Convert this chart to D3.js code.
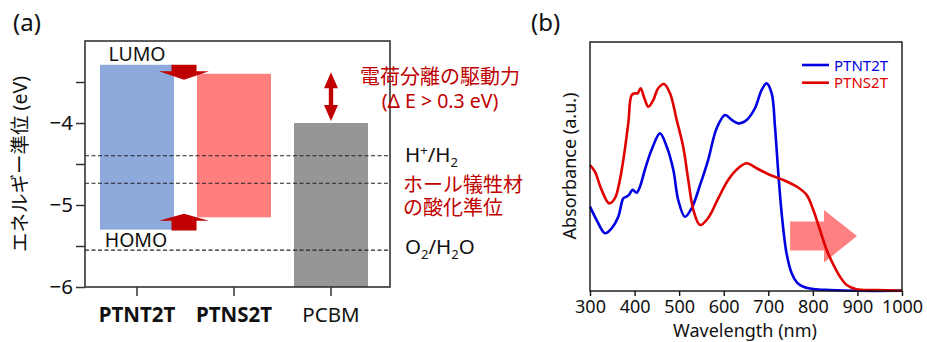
<!DOCTYPE html>
<html><head><meta charset="utf-8">
<script src="https://cdn.jsdelivr.net/npm/d3@7"></script>
<style>
body{margin:0;background:#fff}
svg{display:block}
text{font-family:"Noto Sans","Noto Sans CJK JP",sans-serif}
</style>
</head><body>
<svg id="c" width="927" height="342"></svg>
<script>
// ---------- data: panel (a) ----------
const categories = ["PTNT2T", "PTNS2T", "PCBM"];
const lumoLevels = [-3.29, -3.40, -4.00];
const homoLevels = [-5.30, -5.15, -6.00];
const refLevels = [-4.40, -4.735, -5.55];
const energyTicks = [-6, -5.5, -5, -4.5, -4, -3.5];
const energyTickLabels = ["−6", "", "−5", "", "−4", ""];
// ---------- data: panel (b) ----------
const wavelengthTicks = [300, 400, 500, 600, 700, 800, 900, 1000];
const ptnt2tWl = [300,315,333.6,348.6,363.5,374.7,382,387.5,395.7,404.7,412,423,438,457,472,487,498,513,528,547,565,584,603,618,633,651.6,670,685,696,707.6,715,722.5,730,741,752.5,764,779,801,838.5,898,1000];
const ptnt2tAbs = [0.339,0.285,0.232,0.252,0.298,0.372,0.379,0.386,0.406,0.395,0.419,0.486,0.566,0.633,0.580,0.486,0.365,0.298,0.332,0.426,0.526,0.653,0.707,0.687,0.673,0.687,0.734,0.807,0.834,0.794,0.660,0.473,0.312,0.151,0.071,0.035,0.017,0.008,0.004,0.001,0.001];
const ptns2tWl = [300,311,326,343,356,367,378,386,393.5,401,407,413.7,422,431,442,453,466,479.5,494.5,509,520.5,532,547,565,588,610,633,651.6,674,704,734,764,786,801,816,831,846.5,861,876,898,943,1000];
const ptns2tAbs = [0.506,0.479,0.406,0.352,0.373,0.446,0.566,0.675,0.787,0.794,0.794,0.814,0.774,0.740,0.767,0.814,0.831,0.794,0.687,0.580,0.446,0.325,0.265,0.293,0.373,0.446,0.494,0.513,0.493,0.466,0.446,0.419,0.386,0.325,0.245,0.165,0.104,0.057,0.024,0.007,0.004,0.001];
const seriesNames = ["PTNT2T", "PTNS2T"];

const svg = d3.select("#c");
const darkRed = "#c00000";
const barColors = ["#8eaadc", "#ff7f7f", "#969696"];

// ================= Panel (a) =================
const ax0 = 85, ax1 = 390, ay0 = 41, ay1 = 287;
const xA = d3.scaleBand().domain(categories).range([88.5, 379.5])
  .paddingInner(23/97).paddingOuter(23/194);
const yA = d3.scaleLinear().domain([-6, -3]).range([ay1, ay0]);
const gA = svg.append("g");

gA.selectAll("rect.bar").data(categories).join("rect")
  .attr("class", "bar")
  .attr("x", d => xA(d)).attr("width", xA.bandwidth())
  .attr("y", (d, i) => yA(lumoLevels[i]))
  .attr("height", (d, i) => yA(homoLevels[i]) - yA(lumoLevels[i]))
  .attr("fill", (d, i) => barColors[i]);

gA.selectAll("line.ref").data(refLevels).join("line")
  .attr("x1", ax0).attr("x2", ax1 - 2)
  .attr("y1", d => yA(d)).attr("y2", d => yA(d))
  .attr("stroke", "#222").attr("stroke-width", 1.1).attr("stroke-dasharray", "4,2.5");

// arrows between LUMO / HOMO
const gapX = (xA(categories[0]) + xA.bandwidth() + xA(categories[1])) / 2 - 1.5;
function blockArrow(cx, yStart, yTip, shaftW, headW, headL) {
  const dir = Math.sign(yTip - yStart);
  const yb = yTip - dir * headL;
  return `M${cx - shaftW/2},${yStart} L${cx + shaftW/2},${yStart} L${cx + shaftW/2},${yb}
    L${cx + headW/2},${yb} L${cx},${yTip} L${cx - headW/2},${yb} L${cx - shaftW/2},${yb} Z`;
}
gA.append("path")
  .attr("d", blockArrow(gapX, yA(lumoLevels[0]), yA(lumoLevels[1]) + 6, 25, 50, 8.5))
  .attr("fill", darkRed);
gA.append("path")
  .attr("d", blockArrow(gapX, yA(homoLevels[0]) + 1, yA(homoLevels[1]) - 3.5, 25, 50, 7))
  .attr("fill", darkRed);

// double arrow (PCBM)
{
  const cx = xA(categories[2]) + xA.bandwidth() / 2;
  const yt = yA(lumoLevels[1]) - 1.5, yb = yA(lumoLevels[2]) - 2;
  const hw = 7, hl = 16, sw = 2.2;
  gA.append("path").attr("fill", darkRed).attr("d",
    `M${cx},${yt} L${cx + hw},${yt + hl} L${cx + sw},${yt + hl} L${cx + sw},${yb - hl}
     L${cx + hw},${yb - hl} L${cx},${yb} L${cx - hw},${yb - hl} L${cx - sw},${yb - hl}
     L${cx - sw},${yt + hl} L${cx - hw},${yt + hl} Z`);
}

// box
gA.append("rect").attr("x", ax0).attr("y", ay0).attr("width", ax1 - ax0).attr("height", ay1 - ay0)
  .attr("fill", "none").attr("stroke", "#333").attr("stroke-width", 1.6);

// y axis
const yAxA = gA.append("g").attr("transform", `translate(${ax0},0)`)
  .call(d3.axisLeft(yA).tickValues(energyTicks).tickSize(9).tickPadding(3)
    .tickFormat((d, i) => energyTickLabels[i]));
yAxA.select(".domain").remove();
yAxA.selectAll(".tick line").attr("stroke", "#333").attr("stroke-width", 1.5);
yAxA.selectAll(".tick text").attr("font-size", 20.5).attr("fill", "#111")
  .attr("font-family", "Noto Sans");

// x axis
const xAxA = gA.append("g").attr("transform", `translate(0,${ay1})`)
  .call(d3.axisBottom(xA).tickSize(9));
xAxA.select(".domain").remove();
xAxA.selectAll(".tick line").attr("stroke", "#333").attr("stroke-width", 1.5);
xAxA.selectAll(".tick text").attr("font-size", 20.5).attr("fill", "#111")
  .attr("y", 35).attr("dy", 0)
  .attr("font-weight", (d, i) => i < 2 ? "bold" : "normal");

// y label
gA.append("text").attr("transform", "translate(27,164) rotate(-90)")
  .attr("text-anchor", "middle").attr("font-size", 19.5).attr("fill", "#111")
  .text("エネルギー準位 (eV)");

// LUMO / HOMO labels
const c0 = xA(categories[0]) + xA.bandwidth() / 2;
gA.append("text").attr("x", c0).attr("y", 61).attr("text-anchor", "middle")
  .attr("font-size", 19.5).attr("fill", "#111").text("LUMO");
gA.append("text").attr("x", c0 - 1).attr("y", 247).attr("text-anchor", "middle")
  .attr("font-size", 19.5).attr("fill", "#111").text("HOMO");

// right-side annotations
gA.append("text").attr("x", 440).attr("y", 84).attr("text-anchor", "middle")
  .attr("font-size", 20).attr("fill", darkRed).text("電荷分離の駆動力");
gA.append("text").attr("x", 440).attr("y", 108).attr("text-anchor", "middle")
  .attr("font-size", 19.5).attr("fill", darkRed).text("(Δ E > 0.3 eV)");

const h = gA.append("text").attr("x", 405).attr("y", yA(refLevels[0]) + 6)
  .attr("font-size", 20.5).attr("fill", "#111");
h.append("tspan").text("H");
h.append("tspan").attr("font-size", 13).attr("dy", -7).text("+");
h.append("tspan").attr("dy", 7).text("/H");
h.append("tspan").attr("font-size", 13).attr("dy", 5).text("2");

gA.append("text").attr("x", 403).attr("y", 192).attr("font-size", 20).attr("fill", darkRed)
  .text("ホール犠牲材");
gA.append("text").attr("x", 403).attr("y", 215).attr("font-size", 20).attr("fill", darkRed)
  .text("の酸化準位");

const o = gA.append("text").attr("x", 405).attr("y", yA(refLevels[2]) + 4)
  .attr("font-size", 20.5).attr("fill", "#111");
o.append("tspan").text("O");
o.append("tspan").attr("font-size", 13).attr("dy", 5).text("2");
o.append("tspan").attr("dy", -5).text("/H");
o.append("tspan").attr("font-size", 13).attr("dy", 5).text("2");
o.append("tspan").attr("dy", -5).text("O");

svg.append("text").attr("x", 13).attr("y", 31).attr("font-size", 24).attr("fill", "#111").text("(a)");

// ================= Panel (b) =================
const bx0 = 590, bx1 = 902, by0 = 42, by1 = 291;
const xB = d3.scaleLinear().domain([300, 1000]).range([bx0, bx1]);
const yB = d3.scaleLinear().domain([0, 1]).range([by1, by0]);
const gB = svg.append("g");

// pink arrow (red-shift)
{
  const xs = xB(749), xh = xB(825), xt = xB(899), ym = yB(0.221);
  gB.append("path").attr("fill", "#ff8080").attr("d",
    `M${xs},${ym - 14.5} L${xh},${ym - 14.5} L${xh},${ym - 26} L${xt},${ym}
     L${xh},${ym + 26.5} L${xh},${ym + 14.5} L${xs},${ym + 14.5} Z`);
}

const line = d3.line().x(d => xB(d[0])).y(d => yB(d[1])).curve(d3.curveCatmullRom.alpha(0.5));
const seriesData = [
  {name: seriesNames[0], color: "#0000e0", pts: ptnt2tWl.map((w, i) => [w, ptnt2tAbs[i]])},
  {name: seriesNames[1], color: "#e00000", pts: ptns2tWl.map((w, i) => [w, ptns2tAbs[i]])}
];
gB.selectAll("path.s").data(seriesData).join("path")
  .attr("class", "s").attr("fill", "none")
  .attr("stroke", d => d.color).attr("stroke-width", 2.6)
  .attr("stroke-linejoin", "round")
  .attr("d", d => line(d.pts));

gB.append("rect").attr("x", bx0).attr("y", by0).attr("width", bx1 - bx0).attr("height", by1 - by0)
  .attr("fill", "none").attr("stroke", "#111").attr("stroke-width", 1.4);

const xAxB = gB.append("g").attr("transform", `translate(0,${by1})`)
  .call(d3.axisBottom(xB).tickValues(wavelengthTicks).tickSize(5).tickPadding(4).tickFormat(d3.format("d")));
xAxB.select(".domain").remove();
xAxB.selectAll(".tick line").attr("stroke", "#111").attr("stroke-width", 1.4);
xAxB.selectAll(".tick text").attr("font-size", 18).attr("fill", "#111")
  .attr("font-family", "Noto Sans");

gB.append("text").attr("x", 745).attr("y", 337).attr("text-anchor", "middle")
  .attr("font-size", 18).attr("fill", "#111").text("Wavelength (nm)");
gB.append("text").attr("transform", "translate(576,166) rotate(-90)")
  .attr("text-anchor", "middle").attr("font-size", 18).attr("fill", "#111")
  .text("Absorbance (a.u.)");

// legend
const leg = gB.selectAll("g.leg").data(seriesData).join("g")
  .attr("class", "leg").attr("transform", (d, i) => `translate(802,${65 + i * 17.7})`);
leg.append("line").attr("x1", 0).attr("x2", 27).attr("stroke", d => d.color).attr("stroke-width", 2.6);
leg.append("text").attr("x", 32).attr("y", 5.5).attr("font-size", 15).attr("fill", d => d.color)
  .text(d => d.name);

svg.append("text").attr("x", 531).attr("y", 31).attr("font-size", 24).attr("fill", "#111").text("(b)");
</script>
</body></html>
